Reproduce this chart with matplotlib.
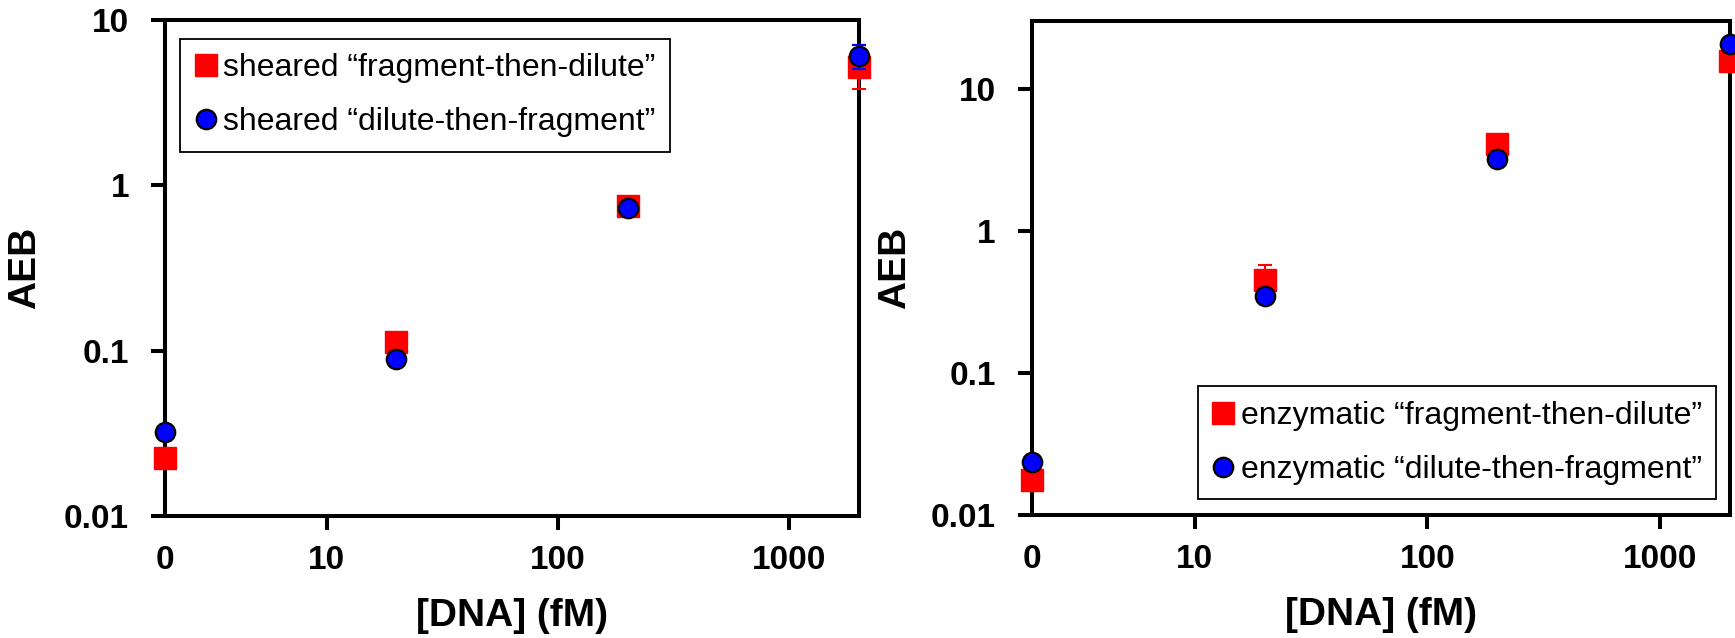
import matplotlib
matplotlib.use("Agg")
import matplotlib.pyplot as plt
from matplotlib.ticker import NullLocator

plt.rcParams['font.family'] = ['Liberation Sans', 'DejaVu Sans']
plt.rcParams['font.weight'] = 'bold'

# x = 2 stands for the blank (labelled "0")
dna = [2, 20, 200, 2000]
xtick_pos = [2, 10, 100, 1000]
xtick_labels = ['0', '10', '100', '1000']

sheared_ftd = [0.0223, 0.113, 0.75, 5.2]
sheared_ftd_err = [0.002, 0.01, 0.05, 1.4]
sheared_dtf = [0.032, 0.089, 0.73, 6.07]
sheared_dtf_err = [0.002, 0.005, 0.04, 1.0]

enz_ftd = [0.0176, 0.453, 4.08, 15.6]
enz_ftd_err = [0.002, 0.12, 0.4, 2.0]
enz_dtf = [0.0236, 0.35, 3.2, 20.5]
enz_dtf_err = [0.002, 0.03, 0.3, 2.0]

labels_left = ['sheared \u201cfragment-then-dilute\u201d', 'sheared \u201cdilute-then-fragment\u201d']
labels_right = ['enzymatic \u201cfragment-then-dilute\u201d', 'enzymatic \u201cdilute-then-fragment\u201d']

tick_fs = 24
label_fs = 28
legend_fs = 23

fig = plt.figure(figsize=(17.35, 6.38), dpi=100)
ax1 = fig.add_axes([0.0951, 0.1912, 0.400, 0.7775])
ax2 = fig.add_axes([0.5948, 0.1928, 0.4023, 0.7743])


def draw(ax, sq, sq_err, ci, ci_err, labels, ylim, yticks):
    ax.set_xscale('log')
    ax.set_yscale('log')
    c1 = ax.errorbar(dna, sq, yerr=sq_err, fmt='s', ms=15.5, color='red', mec='red',
                     ecolor='red', elinewidth=1.5, capsize=5, capthick=1.5, zorder=4)
    c2 = ax.errorbar(dna, ci, yerr=ci_err, fmt='o', ms=14, mfc='blue', mec='black', mew=1.6,
                     ecolor='blue', elinewidth=1.5, capsize=5, capthick=1.5, zorder=5)
    for c in (c1, c2):
        for a in c.get_children():
            a.set_clip_on(False)
    ax.set_xlim(2, 2000)
    ax.set_ylim(*ylim)
    ax.set_xticks(xtick_pos[1:], xtick_labels[1:])
    ax.set_xticks(xtick_pos[:1], xtick_labels[:1], minor=True)
    ax.set_yticks(yticks, [f'{v:g}' for v in yticks])
    ax.yaxis.set_minor_locator(NullLocator())
    ax.tick_params(axis='both', which='major', direction='out', length=10, width=2.9,
                   labelsize=tick_fs)
    ax.tick_params(axis='x', which='major', pad=11)
    ax.tick_params(axis='y', which='major', pad=16)
    ax.tick_params(axis='x', which='minor', length=0, pad=21, labelsize=tick_fs)
    for s in ax.spines.values():
        s.set_linewidth(2.9)
    ax.set_xlabel('[DNA] (fM)', fontsize=label_fs, fontweight='bold')
    ax.set_ylabel('AEB', fontsize=label_fs, fontweight='bold')
    return c1[0], c2[0]


h1 = draw(ax1, sheared_ftd, sheared_ftd_err, sheared_dtf, sheared_dtf_err, labels_left,
          (0.01, 10), [0.01, 0.1, 1, 10])
h2 = draw(ax2, enz_ftd, enz_ftd_err, enz_dtf, enz_dtf_err, labels_right,
          (0.01, 30), [0.01, 0.1, 1, 10])

ax1.xaxis.set_label_coords(0.5, -0.165)
ax1.yaxis.set_label_coords(-0.176, 0.5)
ax2.xaxis.set_label_coords(0.5, -0.165)
ax2.yaxis.set_label_coords(-0.170, 0.5)

leg_kw = dict(prop={'size': legend_fs, 'weight': 'normal'}, frameon=True, fancybox=False,
              edgecolor='black', framealpha=1, handlelength=0.7, handletextpad=0.2,
              labelspacing=0.75, borderpad=0.45, borderaxespad=0)
l1 = ax1.legend(h1, labels_left, loc='upper left', bbox_to_anchor=(0.022, 0.962), **leg_kw)
l2 = ax2.legend(h2, labels_right, loc='lower right', bbox_to_anchor=(0.98, 0.032), **leg_kw)
for l in (l1, l2):
    l.get_frame().set_linewidth(1.3)
    l.set_zorder(6)

fig.savefig('out.png', dpi=100)
